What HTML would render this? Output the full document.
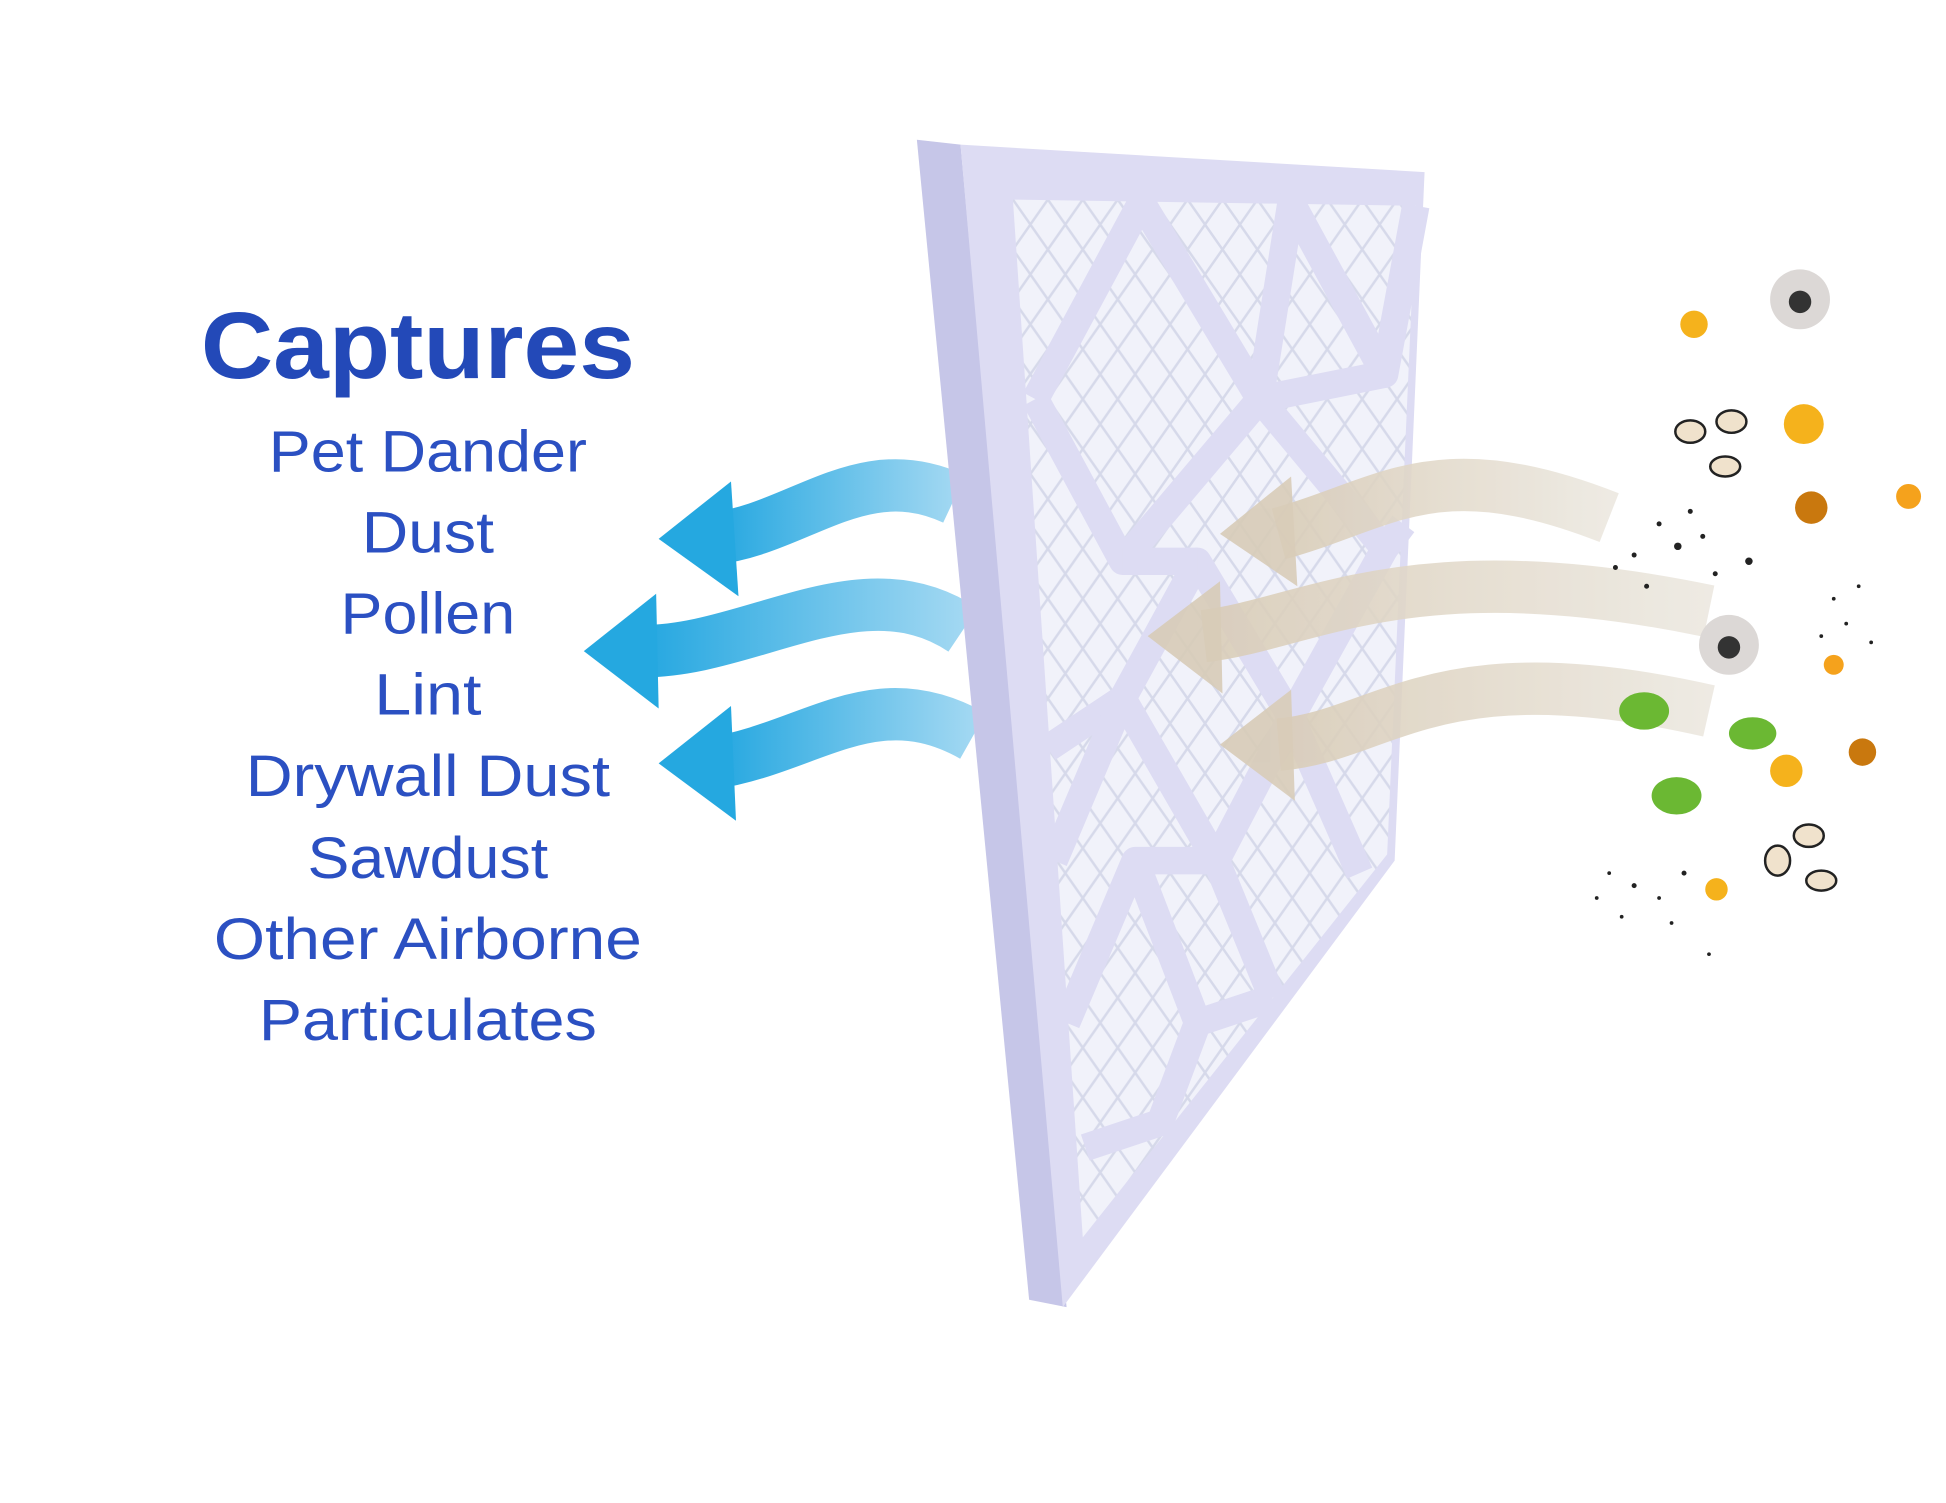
<!DOCTYPE html>
<html><head><style>
html,body{margin:0;padding:0;background:#fff;width:1946px;height:1503px;overflow:hidden}
svg{position:absolute;left:0;top:0}
</style></head><body>
<svg width="1946" height="1503" viewBox="0 0 1560 1205" preserveAspectRatio="none">
<defs>
<linearGradient id="bl" x1="0" x2="1" y1="0" y2="0"><stop offset="0" stop-color="#22a6e0"/><stop offset="1" stop-color="#a2d8f2"/></linearGradient>
<linearGradient id="be" x1="0" x2="1" y1="0" y2="0"><stop offset="0" stop-color="#d9ccb6"/><stop offset="1" stop-color="#ece8e0"/></linearGradient>
<pattern id="pl" width="28" height="40" patternUnits="userSpaceOnUse">
<rect width="28" height="40" fill="#f1f2fa"/>
<path d="M0 0 L14 20 L28 0 M0 40 L14 20 L28 40" stroke="#d6d9ea" stroke-width="2" fill="none"/>
</pattern>
</defs>
<g fill="none" stroke="url(#bl)" stroke-width="42">
<path d="M570 432 C640 425 690 365 765 400"/>
<path d="M510 522 C600 525 690 450 772 505"/>
<path d="M570 612 C650 600 700 545 780 590"/>
</g>
<g fill="#25a8e0">
<polygon points="528,432 586,386 592,478"/>
<polygon points="468,522 526,476 528,568"/>
<polygon points="528,612 586,566 590,658"/>
</g>
<polygon points="735,112 770,116 855,1048 825,1042" fill="#c6c6e8"/>
<polygon points="770,116 1142,138 1118,690 852,1048" fill="#dddcf3"/>
<polygon points="812,160 1135,165 1112,685 868,992" fill="url(#pl)"/>
<g stroke="#dddcf3" stroke-width="22" fill="none" stroke-linejoin="round">
<path d="M830 320 L915 162 L1010 320 L1035 162 L1110 300 L1135 165"/>
<path d="M830 320 L900 450 L1010 320 L1110 440 L1035 575 L960 450 L900 560 L840 600"/>
<path d="M900 450 L960 450"/>
<path d="M1010 320 L1110 300 M1110 440 L1125 420"/>
<path d="M845 690 L900 560 L975 690 L1035 575 L1090 700"/>
<path d="M855 820 L910 690 L975 690 L1020 800 M910 690 L960 820 L930 900 L870 920"/>
<path d="M960 820 L1020 800"/>
</g>
<g fill="none" stroke="url(#be)" stroke-width="42" opacity="0.88">
<path d="M1025 428 C1110 405 1150 360 1290 415"/>
<path d="M965 510 C1050 500 1130 440 1370 490"/>
<path d="M1025 597 C1110 590 1150 520 1370 570"/>
</g>
<g fill="#d8ccb8" opacity="0.9">
<polygon points="978,428 1035,382 1040,470"/>
<polygon points="920,510 978,466 980,556"/>
<polygon points="978,597 1035,553 1038,642"/>
</g>
<g>
<circle cx="1358" cy="260" r="11" fill="#f5b21c"/>
<circle cx="1446" cy="340" r="16" fill="#f5b21c"/>
<circle cx="1452" cy="407" r="13" fill="#c9780e"/>
<circle cx="1530" cy="398" r="10" fill="#f5a21c"/>
<circle cx="1432" cy="618" r="13" fill="#f5b21c"/>
<circle cx="1493" cy="603" r="11" fill="#c9780e"/>
<circle cx="1470" cy="533" r="8" fill="#f5a21c"/>
<circle cx="1376" cy="713" r="9" fill="#f5b21c"/>
<ellipse cx="1318" cy="570" rx="20" ry="15" fill="#6bb833"/>
<ellipse cx="1405" cy="588" rx="19" ry="13" fill="#6bb833"/>
<ellipse cx="1344" cy="638" rx="20" ry="15" fill="#6bb833"/>
<circle cx="1443" cy="240" r="24" fill="#dcd8d6"/><circle cx="1443" cy="242" r="9" fill="#333"/>
<circle cx="1386" cy="517" r="24" fill="#dcd8d6"/><circle cx="1386" cy="519" r="9" fill="#333"/>
<g fill="#f0e2cc" stroke="#222" stroke-width="2">
<ellipse cx="1355" cy="346" rx="12" ry="9"/><ellipse cx="1388" cy="338" rx="12" ry="9"/><ellipse cx="1383" cy="374" rx="12" ry="8"/>
<ellipse cx="1425" cy="690" rx="10" ry="12"/><ellipse cx="1450" cy="670" rx="12" ry="9"/><ellipse cx="1460" cy="706" rx="12" ry="8"/>
</g>
<g fill="#222">
<circle cx="1330" cy="420" r="2"/><circle cx="1345" cy="438" r="3"/><circle cx="1310" cy="445" r="2"/><circle cx="1365" cy="430" r="2"/><circle cx="1295" cy="455" r="2"/><circle cx="1375" cy="460" r="2"/><circle cx="1402" cy="450" r="3"/><circle cx="1320" cy="470" r="2"/><circle cx="1355" cy="410" r="2"/>
<circle cx="1470" cy="480" r="1.5"/><circle cx="1490" cy="470" r="1.5"/><circle cx="1480" cy="500" r="1.5"/><circle cx="1500" cy="515" r="1.5"/><circle cx="1460" cy="510" r="1.5"/>
<circle cx="1290" cy="700" r="1.5"/><circle cx="1310" cy="710" r="2"/><circle cx="1330" cy="720" r="1.5"/><circle cx="1350" cy="700" r="2"/><circle cx="1300" cy="735" r="1.5"/><circle cx="1340" cy="740" r="1.5"/><circle cx="1370" cy="765" r="1.5"/><circle cx="1280" cy="720" r="1.5"/>
</g>
</g>
<g font-family="'Liberation Sans', sans-serif" fill="#2b50c2" text-anchor="middle" lengthAdjust="spacingAndGlyphs">
<text x="335" y="303" font-size="76" font-weight="bold" fill="#2349b8" textLength="348" lengthAdjust="spacingAndGlyphs">Captures</text>
<g font-size="47">
<text x="343" y="378" textLength="255" lengthAdjust="spacingAndGlyphs">Pet Dander</text>
<text x="343" y="443" textLength="106" lengthAdjust="spacingAndGlyphs">Dust</text>
<text x="343" y="508" textLength="140" lengthAdjust="spacingAndGlyphs">Pollen</text>
<text x="343" y="573" textLength="86" lengthAdjust="spacingAndGlyphs">Lint</text>
<text x="343" y="638" textLength="292" lengthAdjust="spacingAndGlyphs">Drywall Dust</text>
<text x="343" y="704" textLength="193" lengthAdjust="spacingAndGlyphs">Sawdust</text>
<text x="343" y="769" textLength="343" lengthAdjust="spacingAndGlyphs">Other Airborne</text>
<text x="343" y="834" textLength="271" lengthAdjust="spacingAndGlyphs">Particulates</text>
</g>
</g>
</svg>
</body></html>
